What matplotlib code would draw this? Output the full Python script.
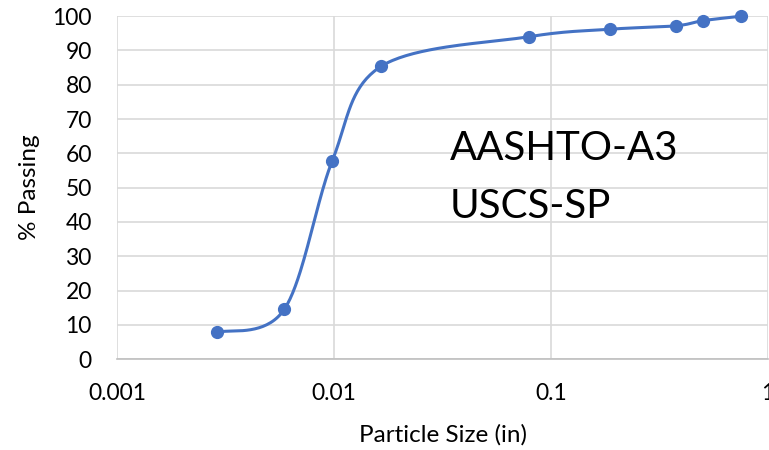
import numpy as np
import matplotlib
matplotlib.use("Agg")
import matplotlib.pyplot as plt

# sieve sizes (in) and percent passing
size_in = [0.0029, 0.0059, 0.0098, 0.0165, 0.0787, 0.187, 0.375, 0.5, 0.75]
pct_passing = [7.8, 14.5, 57.7, 85.4, 94.0, 96.2, 97.2, 98.7, 100.0]
xticks = [0.001, 0.01, 0.1, 1]
xtick_labels = ["0.001", "0.01", "0.1", "1"]
yticks = list(range(0, 101, 10))
class_lines = ["AASHTO-A3", "USCS-SP"]

plt.rcParams['font.family'] = ['Lato', 'DejaVu Sans']


def smooth(xs, ys, n=40):
    # bezier smoothing like Excel's smoothed line, done in log-x space
    lx = np.log10(xs)
    y = np.array(ys, dtype=float)
    pts = np.column_stack([lx, y])
    out = []
    for i in range(len(pts) - 1):
        p0 = pts[max(i - 1, 0)]
        p1 = pts[i]
        p2 = pts[i + 1]
        p3 = pts[min(i + 2, len(pts) - 1)]
        c1 = p1 + (p2 - p0) / 6
        c2 = p2 - (p3 - p1) / 6
        t = np.linspace(0, 1, n)[:, None]
        seg = ((1 - t) ** 3) * p1 + 3 * ((1 - t) ** 2) * t * c1 + 3 * (1 - t) * t ** 2 * c2 + t ** 3 * p2
        out.append(seg if i == 0 else seg[1:])
    out = np.vstack(out)
    return 10 ** out[:, 0], out[:, 1]


fig = plt.figure(figsize=(7.69, 4.5), dpi=100)
ax = fig.add_axes([0.152, 0.202, 0.847, 0.762])

sx, sy = smooth(size_in, pct_passing)
ax.plot(sx, sy, color='#4472C4', lw=2.2, clip_on=False, zorder=3)
ax.plot(size_in, pct_passing, 'o', color='#4472C4', ms=8.5, clip_on=False, zorder=4)

ax.set_xscale('log')
ax.set_xlim(0.001, 1)
ax.set_ylim(0, 100)
ax.set_xticks(xticks)
ax.set_xticklabels(xtick_labels)
ax.set_yticks(yticks)
ax.minorticks_off()
ax.grid(True, color='#d9d9d9', lw=1.2)
ax.set_axisbelow(True)
for s in ['top', 'right', 'left']:
    ax.spines[s].set_visible(False)
ax.spines['bottom'].set_color('#bfbfbf')
ax.spines['bottom'].set_linewidth(1.2)
ax.tick_params(axis='both', length=0, labelsize=16.5, colors='#000000')
ax.tick_params(axis='x', pad=17)
ax.tick_params(axis='y', pad=18)

ax.set_xlabel('Particle Size (in)', fontsize=17.5, labelpad=15)
ax.set_ylabel('% Passing', fontsize=17.5, labelpad=9)

# classification text
ax.text(0.034, 58.0, class_lines[0], fontsize=29, va='baseline', ha='left')
ax.text(0.034, 41.1, class_lines[1], fontsize=29, va='baseline', ha='left')

fig.savefig('out.png', dpi=100)
